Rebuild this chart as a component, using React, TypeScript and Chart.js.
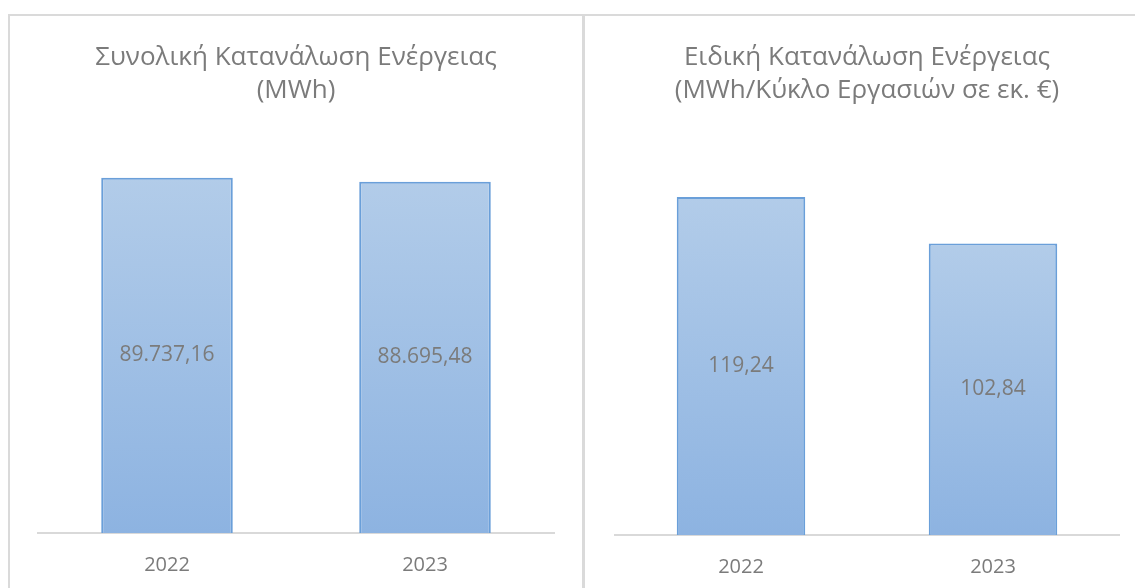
import React, { useEffect, useRef } from "react";
import { Chart, registerables } from "chart.js";

Chart.register(...registerables);

const categories = ["2022", "2023"];
const totalEnergy = [89737.16, 88695.48];
const specificEnergy = [119.24, 102.84];
const totalTitle = ["Συνολική Κατανάλωση Ενέργειας", "(MWh)"];
const specificTitle = ["Ειδική Κατανάλωση Ενέργειας", "(MWh/Κύκλο Εργασιών σε εκ. €)"];
const totalMax = 100000;
const specificMax = 140;

const FONT = "'Open Sans', 'Noto Sans', sans-serif";
const TEXT = "#7b7b7b";

function fmt(v: number): string {
  const [i, d] = v.toFixed(2).split(".");
  return `${i.replace(/\B(?=(\d{3})+(?!\d))/g, ".")},${d}`;
}

const labelPlugin = {
  id: "barLabels",
  afterDatasetsDraw(chart: any) {
    const ctx = chart.ctx;
    chart.data.datasets.forEach((ds: any, di: number) => {
      const meta = chart.getDatasetMeta(di);
      meta.data.forEach((el: any, i: number) => {
        const { x, y, base } = el.getProps(["x", "y", "base"], true);
        ctx.save();
        ctx.fillStyle = TEXT;
        ctx.font = `21px ${FONT}`;
        ctx.textAlign = "center";
        ctx.textBaseline = "middle";
        ctx.fillText(fmt(ds.data[i]), x, (y + base) / 2);
        ctx.restore();
      });
    });
  },
};

type PanelProps = {
  title: string[];
  values: number[];
  max: number;
  left: number;
  width: number;
  padL: number;
  padR: number;
  padB: number;
  titleBottom: number;
};

function Panel(p: PanelProps) {
  const ref = useRef<HTMLCanvasElement | null>(null);
  const cw = p.width - 4;
  const ch = 593;
  useEffect(() => {
    if (!ref.current) return;
    const chart = new Chart(ref.current, {
      type: "bar",
      data: {
        labels: categories,
        datasets: [
          {
            data: p.values,
            barPercentage: 0.51,
            categoryPercentage: 1,
            borderColor: "#6a9fd9",
            borderWidth: 2,
            backgroundColor: (c: any) => {
              const chart = c.chart;
              if (c.type !== "data" || !chart.scales || !chart.scales.y) return "#a0c0e6";
              const ys = chart.scales.y;
              const top = ys.getPixelForValue(c.raw);
              const bottom = ys.getPixelForValue(0);
              if (!isFinite(top) || !isFinite(bottom) || top === bottom) return "#a0c0e6";
              const g = chart.ctx.createLinearGradient(0, top, 0, bottom);
              g.addColorStop(0, "#b2cce9");
              g.addColorStop(1, "#8db3e1");
              return g;
            },
          },
        ],
      },
      options: {
        responsive: false,
        maintainAspectRatio: false,
        animation: false,
        devicePixelRatio: 1,
        layout: { padding: { left: p.padL, right: p.padR, top: 0, bottom: p.padB } },
        plugins: {
          legend: { display: false },
          tooltip: { enabled: false },
          title: {
            display: true,
            text: p.title,
            color: TEXT,
            font: { family: FONT, size: 26, weight: "normal", lineHeight: 1.27 },
            padding: { top: 25, bottom: p.titleBottom },
          },
        },
        scales: {
          x: {
            grid: { display: false, drawTicks: false },
            border: { display: true, color: "#d9d9d9", width: 2 },
            ticks: { color: TEXT, font: { family: FONT, size: 20 }, padding: 20 },
          },
          y: { display: false, min: 0, max: p.max },
        },
      },
      plugins: [labelPlugin],
    } as any);
    return () => chart.destroy();
  }, []);
  return (
    <div
      style={{
        position: "absolute",
        left: p.left,
        top: 14,
        width: p.width,
        height: 620,
        boxSizing: "border-box",
        border: "2px solid #dadada",
        background: "#ffffff",
      }}
    >
      <canvas
        ref={ref}
        width={cw}
        height={ch}
        style={{ position: "absolute", left: 0, top: 0, width: cw, height: ch }}
      />
    </div>
  );
}

export default function App() {
  return (
    <div
      style={{
        position: "fixed",
        left: 0,
        top: 0,
        width: 1135,
        height: 588,
        overflow: "hidden",
        background: "#ffffff",
      }}
    >
      <Panel title={totalTitle} values={totalEnergy} max={totalMax} left={8} width={576} padL={28} padR={28} padB={12} titleBottom={30} />
      <Panel title={specificTitle} values={specificEnergy} max={specificMax} left={583} width={565} padL={30} padR={27} padB={10} titleBottom={31} />
    </div>
  );
}
